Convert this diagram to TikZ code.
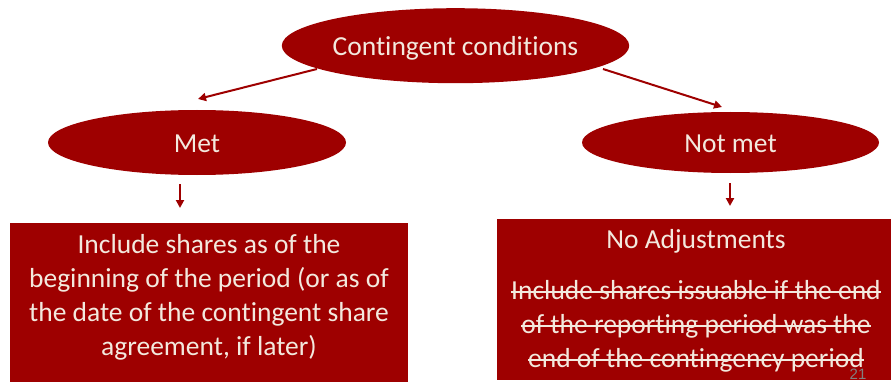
\documentclass[tikz,border=0pt]{standalone}
\usepackage{fontspec}
\setmainfont{Carlito}[Ligatures=NoCommon]
\newfontfamily\numfont{Liberation Sans}
\usetikzlibrary{shapes.geometric,arrows.meta}

\definecolor{boxred}{RGB}{158,0,0}
\definecolor{cream}{RGB}{243,233,222}
\definecolor{pagegray}{RGB}{128,128,128}

% struck-through line of text, rule drawn in the current colour
\newsavebox\crossbox
\newcommand\crossout[1]{\sbox\crossbox{#1}\rlap{\usebox\crossbox}\rule[6pt]{\wd\crossbox}{2pt}}

\begin{document}
\begin{tikzpicture}[x=1pt,y=-1pt,
  oval/.style={ellipse,fill=boxred,inner sep=0pt,text=cream,
    text height=20pt,text depth=0pt,font=\fontsize{27.5}{34}\selectfont},
  panel/.style={rectangle,fill=boxred,inner sep=0pt,anchor=north west},
  paneltext/.style={text=cream,align=center,inner sep=0pt,
    font=\fontsize{27.5}{34}\selectfont},
  link/.style={draw=boxred,line width=2pt,-{Triangle[length=8pt,width=8pt]}}]
\useasboundingbox (0,0) rectangle (891,385);

% decision ovals
\node[oval,minimum width=299pt,minimum height=75pt] (top) at (455.5,45.7) {Contingent conditions};
\node[oval,minimum width=298pt,minimum height=65pt] (met) at (197,142.5) {Met};
\node[oval,minimum width=297pt,minimum height=61pt] (notmet) at (730.5,142.5) {Not met};

% outcome panels
\node[panel,minimum width=398pt,minimum height=159pt] (left) at (10,223) {};
\node[panel,minimum width=394pt,minimum height=161pt] (right) at (497,219) {};

% base anchor of a multi-line node sits on its last line
\node[paneltext,anchor=base] (lefttext) at (209,355)
  {Include shares as of the\\beginning of the period (or as of\\the date of the contingent share\\agreement, if later)};

\node[paneltext,anchor=base] (righttext) at (696,367)
  {No Adjustments\\[17pt]
   \crossout{Include shares issuable if the end}\\
   \crossout{of the reporting period was the}\\
   \crossout{end of the contingency period}};

\node[text=pagegray,inner sep=0pt,anchor=base,font=\numfont\fontsize{15}{15}\selectfont] (pagenum) at (858,379) {21};

% connector end points
\coordinate (a1s) at (317,69);
\coordinate (a1e) at (198,99);
\coordinate (a2s) at (603,69);
\coordinate (a2e) at (722,107);
\coordinate (b1s) at (180,184);
\coordinate (b1e) at (180,208);
\coordinate (b2s) at (730,183);
\coordinate (b2e) at (730,206);

\draw[link] (a1s) -- (a1e);
\draw[link] (a2s) -- (a2e);
\draw[link] (b1s) -- (b1e);
\draw[link] (b2s) -- (b2e);
\end{tikzpicture}
\end{document}
